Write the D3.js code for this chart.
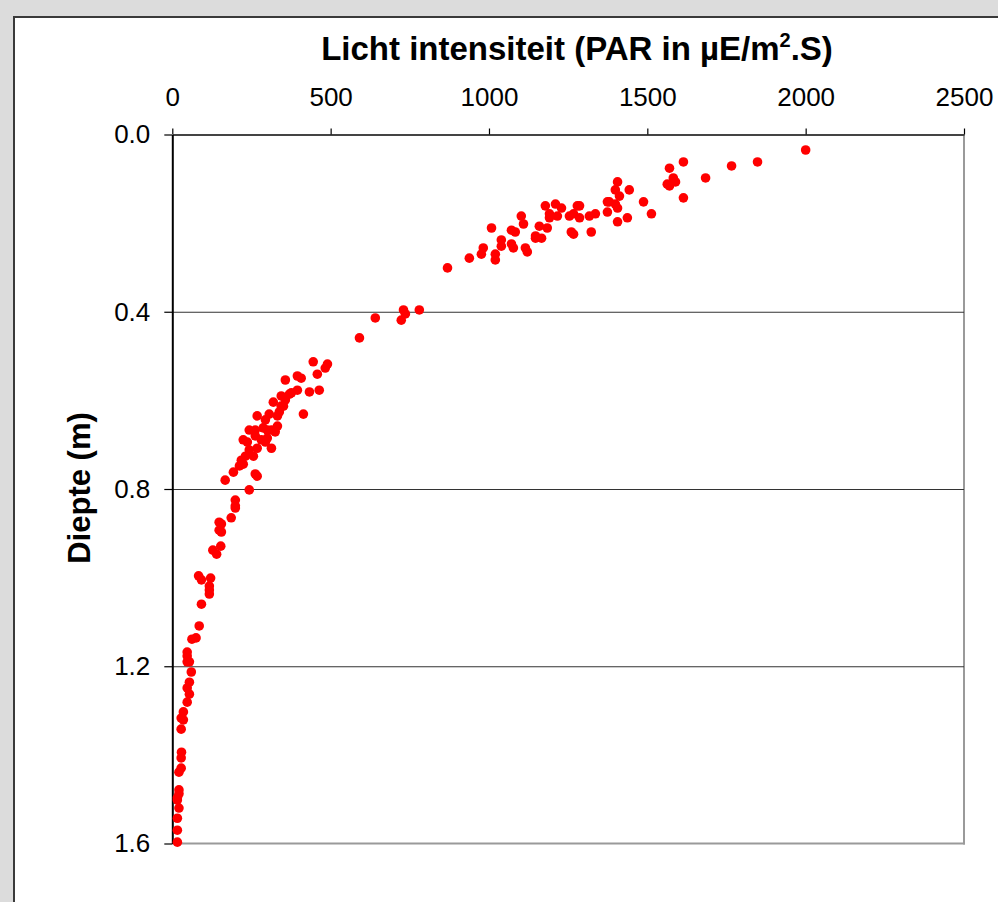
<!DOCTYPE html>
<html>
<head>
<meta charset="utf-8">
<script src="https://cdn.jsdelivr.net/npm/d3@7"></script>
<style>
  body { margin: 0; background: #dcdcdc; }
  svg { display: block; }
  text { font-family: Arial, "Liberation Sans", sans-serif; fill: #000; }
</style>
</head>
<body>
<div id="chart"></div>
<script>
// Data ////////////////////////////////////////////////////////////////////
// Light intensity (PAR in uE/m2.S) and depth (m) of each measurement
const lightIntensity = [
  2000, 1848, 1766, 1684, 1614, 1570, 1563, 1570, 1582, 1589, 1614,
  1406, 1399, 1412, 1443, 1488, 1513, 1374, 1380, 1399, 1406, 1374, 1406, 1437,
  1336, 1317, 1323, 1279, 1286, 1286, 1267, 1254, 1260, 1267,
  1178, 1210, 1229, 1191, 1191, 1216, 1159, 1184, 1147, 1147, 1166,
  1102, 1109, 1071, 1083, 1071, 1077, 1115, 1121,
  1008, 1039, 1039, 1020, 1020, 982, 976, 938, 869,
  780, 730, 736, 723, 641, 591,
  445, 490, 483, 458, 357, 395, 407, 395, 433, 464,
  344, 370, 376, 357, 319, 344, 351, 338, 414, 306, 268, 294, 332,
  243, 262, 287, 300, 313, 332, 325,
  224, 237, 262, 281, 294, 300, 313, 268, 243,
  256, 231, 218, 224, 212, 193, 167, 262, 268, 243,
  199, 199, 199, 186, 148, 155, 148, 155, 153, 128, 140,
  83, 92, 121, 117, 117, 117, 92, 85, 62, 75,
  47, 47, 47, 54, 60, 54, 47, 54, 47,
  35, 28, 35, 28, 29, 28, 28, 21, 21, 21, 16, 16, 21, 16, 16, 16
];
const depth = [
  0.035, 0.062, 0.071, 0.098, 0.062, 0.076, 0.112, 0.116, 0.098, 0.107, 0.143,
  0.107, 0.125, 0.139, 0.125, 0.152, 0.179, 0.152, 0.152, 0.157, 0.166, 0.175, 0.197, 0.188,
  0.179, 0.184, 0.220, 0.161, 0.161, 0.188, 0.179, 0.184, 0.220, 0.225,
  0.161, 0.157, 0.166, 0.179, 0.188, 0.184, 0.207, 0.211, 0.229, 0.234, 0.234,
  0.184, 0.202, 0.216, 0.220, 0.247, 0.256, 0.256, 0.265,
  0.211, 0.238, 0.252, 0.270, 0.283, 0.256, 0.270, 0.279, 0.301,
  0.396, 0.396, 0.405, 0.419, 0.414, 0.459,
  0.513, 0.518, 0.527, 0.541, 0.554, 0.545, 0.550, 0.577, 0.581, 0.577,
  0.590, 0.586, 0.583, 0.599, 0.604, 0.613, 0.613, 0.626, 0.631, 0.631, 0.635, 0.644, 0.635,
  0.667, 0.667, 0.662, 0.667, 0.667, 0.658, 0.671,
  0.689, 0.694, 0.680, 0.689, 0.694, 0.685, 0.708, 0.708, 0.712,
  0.726, 0.726, 0.735, 0.744, 0.748, 0.762, 0.780, 0.766, 0.771, 0.802,
  0.825, 0.838, 0.843, 0.865, 0.875, 0.879, 0.893, 0.897, 0.929, 0.938, 0.947,
  0.996, 1.005, 1.001, 1.019, 1.028, 1.037, 1.060, 1.109, 1.139, 1.136,
  1.168, 1.177, 1.190, 1.190, 1.213, 1.236, 1.249, 1.263, 1.281,
  1.303, 1.317, 1.321, 1.342, 1.394, 1.407, 1.430, 1.439, 1.479, 1.488,
  1.497, 1.502, 1.520, 1.543, 1.570, 1.597
];

// Axis ticks
const xTicks = [0, 500, 1000, 1500, 2000, 2500];
const yTicks = [0, 0.4, 0.8, 1.2, 1.6];
const gridTicks = [0.4, 0.8, 1.2];

// Texts
const titleText = 'Licht intensiteit (PAR in µE/m';
const yLabelText = 'Diepte (m)';

// Chart ///////////////////////////////////////////////////////////////////
const W = 998, H = 902;
const plot = {left: 172.3, top: 134.5, right: 964, bottom: 843.5};
const width = plot.right - plot.left,
      height = plot.bottom - plot.top;

const svg = d3.select('#chart').append('svg')
  .attr('width', W)
  .attr('height', H);

// White chart panel with dark border on top and left
svg.append('rect')
  .attr('x', 14).attr('y', 17)
  .attr('width', W).attr('height', H)
  .attr('fill', '#fff')
  .attr('stroke', '#3a3a3a')
  .attr('stroke-width', 2);

const x = d3.scaleLinear().domain([0, 2500]).range([0, width]);
const y = d3.scaleLinear().domain([0, 1.6]).range([0, height]);

const g = svg.append('g')
  .attr('transform', `translate(${plot.left},${plot.top})`);

// Plot area border (right and bottom are lighter grey)
g.append('line')
  .attr('x1', width).attr('x2', width)
  .attr('y1', 0).attr('y2', height + 1)
  .attr('stroke', '#9a9a9a').attr('stroke-width', 2);
g.append('line')
  .attr('x1', 0).attr('x2', width + 1)
  .attr('y1', height).attr('y2', height)
  .attr('stroke', '#9a9a9a').attr('stroke-width', 2);

// Horizontal gridlines
g.append('g')
  .attr('class', 'grid')
  .call(d3.axisLeft(y).tickValues(gridTicks).tickSize(-width).tickFormat(''))
  .call(s => s.select('.domain').remove())
  .call(s => s.selectAll('line').attr('stroke', '#333').attr('stroke-width', 1.2));

// Top x axis
g.append('g')
  .attr('class', 'axis axis-x')
  .call(d3.axisTop(x).tickValues(xTicks).tickSize(6).tickSizeOuter(0).tickPadding(23)
    .tickFormat(d3.format('d')))
  .call(s => s.select('.domain').attr('stroke', '#444').attr('stroke-width', 2))
  .call(s => s.selectAll('.tick line').attr('stroke', '#000').attr('stroke-width', 1.2))
  .call(s => s.selectAll('text').attr('font-size', 26));

// Left y axis
g.append('g')
  .attr('class', 'axis axis-y')
  .call(d3.axisLeft(y).tickValues(yTicks).tickSize(8).tickSizeOuter(0).tickPadding(14)
    .tickFormat(d3.format('.1f')))
  .call(s => s.select('.domain').attr('stroke', '#000').attr('stroke-width', 2))
  .call(s => s.selectAll('.tick line').attr('stroke', '#000').attr('stroke-width', 1.2))
  .call(s => s.selectAll('text').attr('font-size', 26));

// Points
g.selectAll('.dot')
  .data(d3.range(lightIntensity.length))
  .enter().append('circle')
  .attr('class', 'dot')
  .attr('cx', i => x(lightIntensity[i]))
  .attr('cy', i => y(depth[i]))
  .attr('r', 4.8)
  .attr('fill', '#ff0000');

// Title with superscript 2
const title = svg.append('text')
  .attr('transform', 'translate(577,60)')
  .attr('text-anchor', 'middle')
  .attr('font-size', 33)
  .attr('font-weight', 'bold');
title.append('tspan').text(titleText);
title.append('tspan').attr('dy', -13).attr('font-size', 20).text('2');
title.append('tspan').attr('dy', 13).text('.S)');

// Y axis label
svg.append('text')
  .attr('transform', 'translate(90,488) rotate(-90)')
  .attr('text-anchor', 'middle')
  .attr('font-size', 31)
  .attr('font-weight', 'bold')
  .text(yLabelText);
</script>
</body>
</html>
